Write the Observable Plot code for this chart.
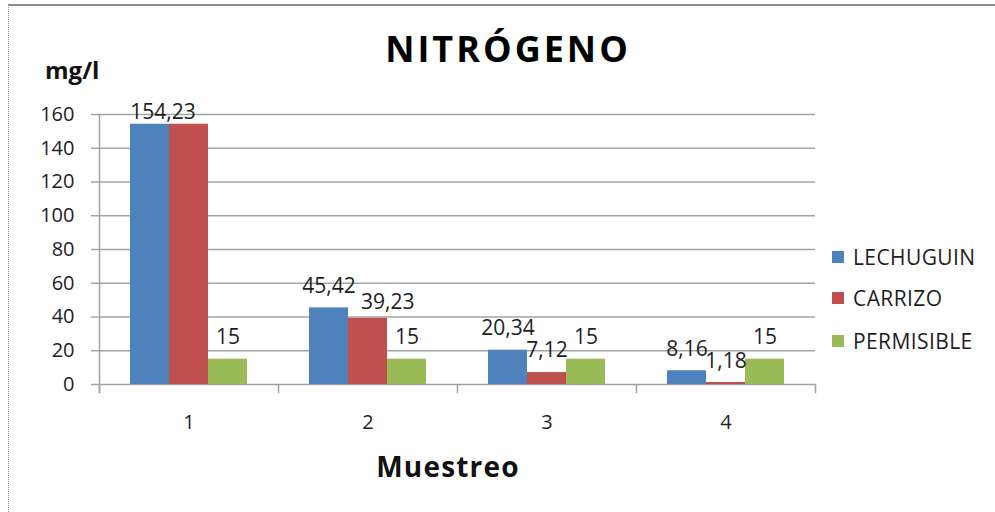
<!DOCTYPE html>
<html>
<head>
<meta charset="utf-8">
<script src="https://cdn.jsdelivr.net/npm/d3@7"></script>
<script src="https://cdn.jsdelivr.net/npm/@observablehq/plot@0.6"></script>
<style>
  html, body { margin: 0; padding: 0; background: #fff; }
  #wrap { position: relative; width: 995px; height: 512px; overflow: hidden; font-family: "Open Sans", sans-serif; color: #1e1e1e; }
  #edge { position: absolute; left: 8px; top: 4px; width: 1100px; height: 600px; border-top: 2px solid #8c8c8c; border-left: 1px dotted #9a9a9a; }
  #chart { position: absolute; left: 0; top: 0; }
  .abs { position: absolute; white-space: nowrap; line-height: 1; }
  #title { left: 258px; width: 500px; top: 31px; text-align: center; font-weight: 700; font-size: 36px; letter-spacing: 3px; color: #000; }
  #unit { left: 45px; top: 58px; font-weight: 700; font-size: 24px; color: #111; }
  #xlabel { left: 298px; width: 300px; top: 452px; text-align: center; font-weight: 700; font-size: 28px; letter-spacing: 1.2px; color: #111; }
  #legend { left: 832px; top: 0; }
  .item { position: absolute; left: 0; display: flex; align-items: center; font-size: 21px; letter-spacing: 0.4px; line-height: 1; }
  .sw { width: 12px; height: 12px; margin-right: 9px; flex: none; }
</style>
</head>
<body>
<div id="wrap">
  <div id="edge"></div>
  <div id="chart"></div>
  <div id="title" class="abs">NITRÓGENO</div>
  <div id="unit" class="abs">mg/l</div>
  <div id="xlabel" class="abs">Muestreo</div>
  <div id="legend" class="abs"></div>
</div>
<script>
// Nitrogen concentration (mg/l) per sampling round
const samples = ["1", "2", "3", "4"];
const seriesNames = ["LECHUGUIN", "CARRIZO", "PERMISIBLE"];
const lechuguin = [154.23, 45.42, 20.34, 8.16];
const carrizo = [154.23, 39.23, 7.12, 1.18];
const permisible = [15, 15, 15, 15];
const yTicks = [0, 20, 40, 60, 80, 100, 120, 140, 160];
const seriesColors = ["#4F81BD", "#C0504D", "#9BBB59"];

const valuesBySeries = [lechuguin, carrizo, permisible];
const rows = samples.flatMap((s, i) =>
  seriesNames.map((name, k) => ({sample: s, series: name, value: valuesBySeries[k][i], k, i}))
);
const fmt = (v) => String(v).replace(".", ",");
const prevValue = (d) => (d.k > 0 ? valuesBySeries[d.k - 1][d.i] : null);
const nextValue = (d) => (d.k < seriesNames.length - 1 ? valuesBySeries[d.k + 1][d.i] : null);

// Two adjacent bars with the same value share one label;
// a label sitting just below its left neighbour's label is pushed to the right.
const crowdGap = 6.5;
const pairLabels = rows.filter((d) => nextValue(d) === d.value);
const rest = rows.filter((d) => nextValue(d) !== d.value && prevValue(d) !== d.value);
const crowded = (d) => prevValue(d) !== null && prevValue(d) > d.value && prevValue(d) - d.value < crowdGap;
const plainLabels = rest.filter((d) => !crowded(d));
const shiftedLabels = rest.filter(crowded);

// Layout
const W = 995, H = 512;
const mTop = 114, mBottom = 128, mLeft = 99, mRight = 180;
const xPadOuter = 0.775;
const facetWidth = (W - mLeft - mRight) / samples.length;
const barWidth = facetWidth / (seriesNames.length + 2 * xPadOuter);
const plotHeight = H - mTop - mBottom;
const axisGray = "#a3a3a3";
const labelStyle = {fx: "sample", x: "series", y: "value", text: (d) => fmt(d.value), lineAnchor: "bottom", fontSize: 21, fill: "#1e1e1e"};

const chart = Plot.plot({
  width: W,
  height: H,
  marginTop: mTop,
  marginBottom: mBottom,
  marginLeft: mLeft,
  marginRight: mRight,
  style: {fontFamily: "Open Sans, sans-serif", fontSize: "20px", color: "#1e1e1e", background: "transparent", overflow: "visible"},
  fx: {domain: samples, padding: 0, label: null},
  x: {domain: seriesNames, paddingInner: 0, paddingOuter: xPadOuter, axis: null},
  y: {domain: [0, 160], label: null},
  color: {domain: seriesNames, range: seriesColors},
  marks: [
    Plot.gridY(yTicks, {stroke: axisGray, strokeOpacity: 1, strokeWidth: 1.5}),
    Plot.barY(rows, {fx: "sample", x: "series", y: "value", fill: "series"}),
    // vertical axis line, running down into the first category tick
    Plot.frame({anchor: "left", facetAnchor: "left", stroke: axisGray, strokeWidth: 1.5, insetBottom: -8}),
    // category separator ticks below the baseline
    Plot.frame({anchor: "left", stroke: axisGray, strokeWidth: 1.5, insetTop: plotHeight, insetBottom: -8}),
    Plot.frame({anchor: "right", facetAnchor: "right", stroke: axisGray, strokeWidth: 1.5, insetTop: plotHeight, insetBottom: -8}),
    Plot.axisY({ticks: yTicks, tickSize: 8, tickPadding: 17, stroke: axisGray, strokeWidth: 1.5, label: null, fontSize: 20, tickFormat: (d) => d}),
    Plot.axisFx({anchor: "bottom", tickSize: 0, tickPadding: 30, label: null, fontSize: 20}),
    Plot.text(plainLabels, {...labelStyle, dy: -15}),
    Plot.text(shiftedLabels, {...labelStyle, dx: barWidth / 2, dy: -9}),
    Plot.text(pairLabels, {...labelStyle, textAnchor: "start", dx: -barWidth / 2, dy: -5})
  ]
});
document.getElementById("chart").appendChild(chart);

// Legend on the right
const legend = document.getElementById("legend");
const legendCenters = [257, 298, 341];
seriesNames.forEach((name, k) => {
  const item = document.createElement("div");
  item.className = "item";
  item.style.top = (legendCenters[k] - 12) + "px";
  item.style.height = "24px";
  const sw = document.createElement("span");
  sw.className = "sw";
  sw.style.background = seriesColors[k];
  const label = document.createElement("span");
  label.textContent = name;
  item.appendChild(sw);
  item.appendChild(label);
  legend.appendChild(item);
});
</script>
</body>
</html>
